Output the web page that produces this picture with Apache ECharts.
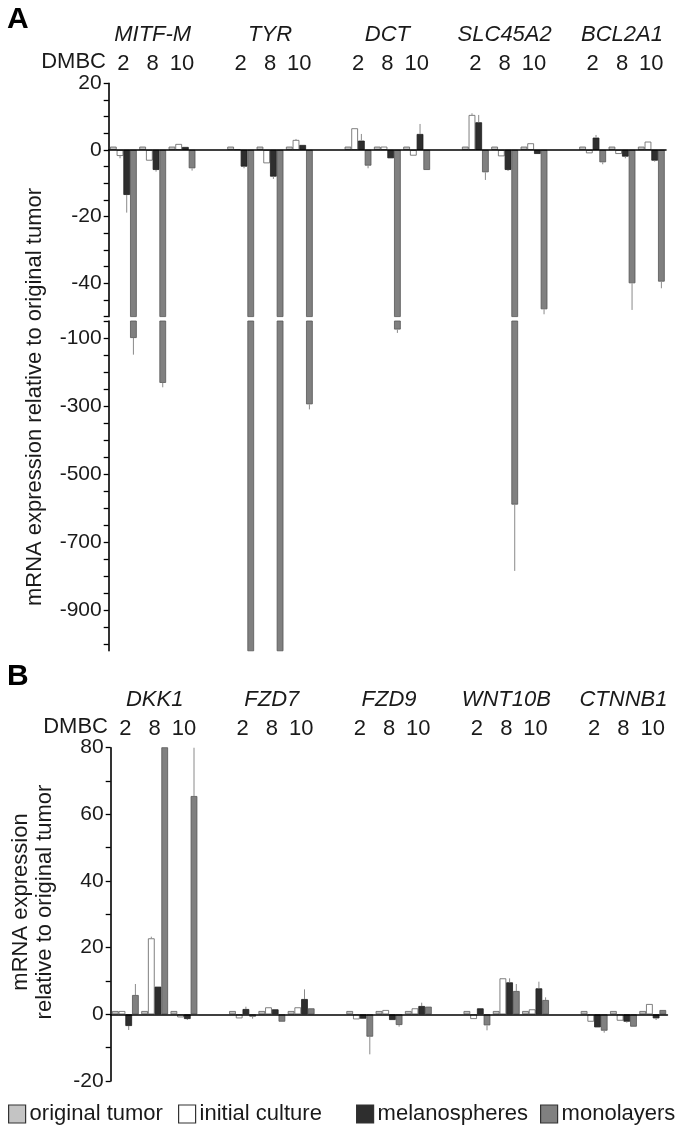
<!DOCTYPE html>
<html><head><meta charset="utf-8">
<script src="https://cdn.jsdelivr.net/npm/echarts@6/dist/echarts.min.js"></script>
<style>html,body{margin:0;padding:0;background:#fff}#c{width:679px;height:1131px}</style>
</head><body><div id="c"></div>
<script>
// ---------- data ----------
const genesA = ['MITF-M','TYR','DCT','SLC45A2','BCL2A1'];
const genesB = ['DKK1','FZD7','FZD9','WNT10B','CTNNB1'];
const dmbc = ['2','8','10'];
const seriesNames = ['original tumor','initial culture','melanospheres','monolayers'];

// Panel A values (per gene: DMBC 2, 8, 10)
const A_orig = [1,1,1, 1,1,1, 1,1,1, 1,1,1, 1,1,1];
const A_init = [-1.8,-3.2,1.8, 0.2,-4,3, 6.5,1,-1.7, 10.5,-1.9,2, -1,-1.2,2.5];
const A_mel  = [-13.5,-6,0.9, -5,-8,1.5, 2.8,-2.5,4.8, 8.3,-6,-1.2, 3.7,-2,-3.2];
const A_mono = [-100,-232,-5.5, -1050,-1050,-295, -4.7,-75,-6, -6.7,-590,-47.8, -3.7,-40,-39.5];
const A_origErr = [0,0,0, 0,0,0, 0,0,0, 0,0,0, 0,0,0];
const A_initErr = [0.7,0,0, 0,0,0.3, 0,0,0, 0.5,0,0, 0,0,0];
const A_melErr  = [5.3,0.5,0, 0.5,0.7,0, 2,0,3, 2.2,0.3,0, 0.8,0.5,0.3];
const A_monoErr = [49,13,0.7, 0,0,15, 0.8,10,0, 2.3,195,1.5, 0.6,8,2];

// Panel B values
const B_orig = [1,1,1, 1,1,1, 1,1,1, 1,1,1, 1,1,1];
const B_init = [1,22.8,-0.9, -1.2,2.1,2.1, -1.5,1.3,1.8, -1.4,10.8,1.5, -2.2,-1.9,3.1];
const B_mel  = [-3.5,8.3,-1.4, 1.6,1.5,4.6, -1.3,-1.7,2.5, 1.8,9.6,7.8, -3.9,-2.2,-1.2];
const B_mono = [5.8,95,65.5, -0.7,-2.2,1.8, -6.7,-3.2,2.3, -3.3,7,4.3, -4.9,-3.7,1.3];
const B_origErr = [0,0,0, 0,0,0, 0,0,0, 0,0,0, 0,0,0];
const B_initErr = [0,0.5,0, 0,0,0, 0,0,0, 0,0,0, 0,0,0];
const B_melErr  = [1.2,0,0.3, 0.7,0,2.9, 0,0,1, 0,1.2,2, 0,0.3,0.5];
const B_monoErr = [3.3,0,20, 0.6,0,0, 5.3,0.5,0, 1.5,2.1,0.8, 0.6,0,0];

// axis ranges / ticks
const A_upper = {min:-50, max:20, interval:5, labelEvery:20};
const A_lowerMin = -1020, A_lowerMax = -50;
const A_lowerTicks = [-1000,-950,-900,-850,-800,-750,-700,-650,-600,-550,-500,-450,-400,-350,-300,-250,-200,-150,-100,-50];
const A_lowerLabels = [-900,-700,-500,-300,-100];
const B_axis  = {min:-20, max:80, interval:10, labelEvery:20};

// ---------- styling ----------
const FONT = "'Liberation Sans', Arial, Helvetica, sans-serif";
const fills   = ['#c4c4c4','#ffffff','#2e2e2e','#808080'];
const borders = ['#606060','#606060','#1e1e1e','#555555'];
const BW = 6.7;

function cats(genes){const c=[];genes.forEach((g,gi)=>{dmbc.forEach(d=>c.push(g+'|'+d));if(gi<genes.length-1)c.push('gap|'+gi);});return c;}
function expand(arr){const o=[];for(let g=0;g<5;g++){for(let d=0;d<3;d++)o.push(arr[g*3+d]);if(g<4)o.push(null);}return o;}
function errData(vals,errs){const o=[];for(let g=0;g<5;g++)for(let d=0;d<3;d++){const i=g*3+d;if(errs[i])o.push([g*4+d,vals[i],errs[i]]);}return o;}

const catsA = cats(genesA), catsB = cats(genesB);

const gridA1 = {left:108.7, top:83.3, width:557.3, height:233.3};
const gridA2 = {left:108.7, top:321, width:557.3, height:329.8};
const gridB  = {left:110.7, top:747.7, width:556.7, height:333.3};

function mainX(gi, data){return {gridIndex:gi,type:'category',data:data,position:'bottom',
  axisLine:{show:true,onZero:true,lineStyle:{color:'#000',width:1.6}},axisTick:{show:false},axisLabel:{show:false},z:5};}
function dmbcX(gi,data){return {gridIndex:gi,type:'category',data:data,position:'top',
  axisLine:{show:false},axisTick:{show:false},
  axisLabel:{interval:0,margin:8,fontSize:22,fontFamily:FONT,color:'#1a1a1a',
    formatter:v=>v.startsWith('gap|')?'':v.split('|')[1]}};}
function geneX(gi,data){return {gridIndex:gi,type:'category',data:data,position:'top',offset:29,
  axisLine:{show:false},axisTick:{show:false},
  axisLabel:{interval:0,margin:8,fontSize:22,fontStyle:'italic',fontFamily:FONT,color:'#1a1a1a',
    formatter:v=>{const p=v.split('|');return (p[0]!=='gap'&&p[1]==='8')?p[0]:'';}}};}

const yLineStyle = {show:true,onZero:false,lineStyle:{color:'#000',width:1.6}};
const yTick = {show:true,length:5,lineStyle:{color:'#000',width:1.3}};
const yLabel = {margin:7,fontSize:21,fontFamily:FONT,color:'#1a1a1a'};

function yAx(gi,cfg,fmt){return {gridIndex:gi,type:'value',min:cfg.min,max:cfg.max,interval:cfg.interval,
  splitLine:{show:false},axisLine:yLineStyle,axisTick:yTick,
  axisLabel:Object.assign({formatter:fmt},yLabel)};}

const xAxis = [mainX(0,catsA), dmbcX(0,catsA), geneX(0,catsA),
  {gridIndex:1,type:'category',data:catsA,show:false},
  mainX(2,catsB), dmbcX(2,catsB), geneX(2,catsB)];
const yAxis = [
  yAx(0,A_upper,v=>v%A_upper.labelEvery===0?String(v):''),
  {gridIndex:1,type:'value',min:A_lowerMin,max:A_lowerMax,splitLine:{show:false},axisLine:yLineStyle,
    axisTick:Object.assign({customValues:A_lowerTicks},yTick),
    axisLabel:Object.assign({customValues:A_lowerLabels,formatter:v=>String(v)},yLabel)},
  yAx(2,B_axis,v=>v%B_axis.labelEvery===0?String(v):'')
];

const series = [];
function addGrid(xi, yi, valsList, errList){
  valsList.forEach((vals,k)=>{
    series.push({type:'bar',name:seriesNames[k],xAxisIndex:xi,yAxisIndex:yi,data:expand(vals),
      barWidth:BW,barGap:'0%',clip:true,silent:true,
      itemStyle:{color:fills[k],borderColor:borders[k],borderWidth:0.8}});
  });
  valsList.forEach((vals,k)=>{
    const off=(k-1.5)*BW;
    series.push({type:'custom',name:seriesNames[k]+' err',xAxisIndex:xi,yAxisIndex:yi,clip:true,silent:true,z:3,
      data:errData(vals,errList[k]),
      renderItem:(params,api)=>{
        const s=api.value(0),v=api.value(1),e=api.value(2);
        const p0=api.coord([s,v]),p1=api.coord([s,v+(v<0?-e:e)]);
        const x=p0[0]+off;
        return {type:'line',shape:{x1:x,y1:p0[1],x2:x,y2:p1[1]},style:{stroke:'#8a8a8a',lineWidth:1}};
      }});
  });
}
addGrid(0,0,[A_orig,A_init,A_mel,A_mono],[A_origErr,A_initErr,A_melErr,A_monoErr]);
addGrid(3,1,[A_orig,A_init,A_mel,A_mono],[A_origErr,A_initErr,A_melErr,A_monoErr]);
addGrid(4,2,[B_orig,B_init,B_mel,B_mono],[B_origErr,B_initErr,B_melErr,B_monoErr]);

const legendLefts = [8,178,356,540];
const legend = seriesNames.map((n,i)=>({data:[n],left:legendLefts[i],top:1103,itemWidth:17,itemHeight:18,itemGap:4,
  padding:0,icon:'rect',selectedMode:false,
  textStyle:{fontSize:22,fontFamily:FONT,color:'#1a1a1a',padding:[0,0,0,-1]},
  itemStyle:{color:fills[i],borderColor:'#333',borderWidth:1.2}}));

const graphic = [
  {type:'text',left:7,top:5,style:{text:'A',font:'bold 30px '+FONT,fill:'#000'}},
  {type:'text',left:7,top:662,style:{text:'B',font:'bold 30px '+FONT,fill:'#000'}},
  {type:'text',x:106,y:62,style:{text:'DMBC',font:'22px '+FONT,fill:'#1a1a1a',textAlign:'right',textVerticalAlign:'middle'}},
  {type:'text',x:108,y:727,style:{text:'DMBC',font:'22px '+FONT,fill:'#1a1a1a',textAlign:'right',textVerticalAlign:'middle'}},
  {type:'text',x:35,y:397,rotation:Math.PI/2,style:{text:'mRNA expression relative to original tumor',font:'22px '+FONT,fill:'#1a1a1a',textAlign:'center',textVerticalAlign:'middle'}},
  {type:'text',x:21,y:902,rotation:Math.PI/2,style:{text:'mRNA expression',font:'22px '+FONT,fill:'#1a1a1a',textAlign:'center',textVerticalAlign:'middle'}},
  {type:'text',x:45,y:902,rotation:Math.PI/2,style:{text:'relative to original tumor',font:'22px '+FONT,fill:'#1a1a1a',textAlign:'center',textVerticalAlign:'middle'}}
];

const chart = echarts.init(document.getElementById('c'),null,{renderer:'canvas'});
chart.setOption({animation:false,backgroundColor:'#fff',
  grid:[gridA1,gridA2,gridB],xAxis:xAxis,yAxis:yAxis,series:series,legend:legend,graphic:graphic});
</script></body></html>
